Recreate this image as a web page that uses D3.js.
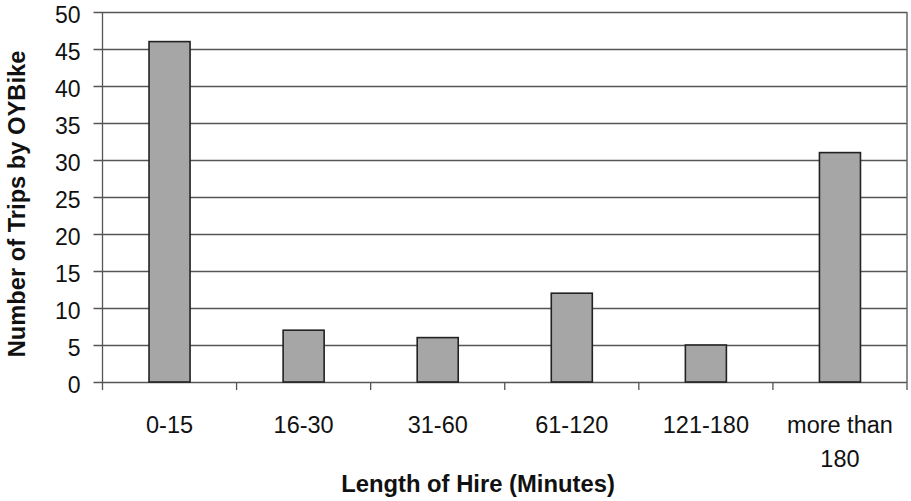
<!DOCTYPE html>
<html>
<head>
<meta charset="utf-8">
<script src="https://cdn.jsdelivr.net/npm/d3@7"></script>
<style>
  html, body { margin: 0; padding: 0; background: #fff; }
  svg { display: block; font-family: "Liberation Sans", Arial, sans-serif; }
</style>
</head>
<body>
<svg id="chart" width="911" height="501"></svg>
<script>
// Trips by length of hire
const categories = ["0-15", "16-30", "31-60", "61-120", "121-180", "more than 180"];
const trips = [46, 7, 6, 12, 5, 31];
const yTicks = [0, 5, 10, 15, 20, 25, 30, 35, 40, 45, 50];

const svg = d3.select("#chart");
const margin = { left: 102.5, right: 4, top: 12, bottom: 119 };
const W = 911, H = 501;
const plotW = W - margin.left - margin.right;
const plotH = H - margin.top - margin.bottom;

const x = d3.scaleBand().domain(categories).range([0, plotW]).paddingInner(0).paddingOuter(0);
const y = d3.scaleLinear().domain([0, 50]).range([plotH, 0]);

const g = svg.append("g").attr("transform", `translate(${margin.left},${margin.top})`);

// Horizontal gridlines (extend left past the axis as tick marks)
g.append("g").selectAll("line").data(yTicks).join("line")
  .attr("x1", -9).attr("x2", plotW)
  .attr("y1", d => Math.round(y(d)) + 0.5).attr("y2", d => Math.round(y(d)) + 0.5)
  .attr("stroke", "#555").attr("stroke-width", 1.3);

// Right frame edge
g.append("line")
  .attr("x1", plotW).attr("x2", plotW).attr("y1", 0).attr("y2", plotH + 8)
  .attr("stroke", "#666").attr("stroke-width", 1.5);

// Y axis line
g.append("line")
  .attr("x1", 0).attr("x2", 0).attr("y1", 0).attr("y2", plotH + 8)
  .attr("stroke", "#555").attr("stroke-width", 1.3);

// Category boundary ticks below the baseline
const bounds = categories.slice(1).map(c => x(c));
g.append("g").selectAll("line").data(bounds).join("line")
  .attr("x1", d => d).attr("x2", d => d)
  .attr("y1", plotH).attr("y2", plotH + 8)
  .attr("stroke", "#555").attr("stroke-width", 1.3);

// Y tick labels
g.append("g").selectAll("text").data(yTicks).join("text")
  .attr("x", -22).attr("y", d => y(d))
  .attr("dy", "0.47em")
  .attr("text-anchor", "end")
  .attr("font-size", 23).attr("fill", "#111")
  .text(d => d);

// Bars
const barW = x.bandwidth() * 0.306;
g.append("g").selectAll("rect").data(categories).join("rect")
  .attr("x", d => x(d) + (x.bandwidth() - barW) / 2)
  .attr("y", (d, i) => y(trips[i]))
  .attr("width", barW)
  .attr("height", (d, i) => plotH - y(trips[i]))
  .attr("fill", "#a6a6a6")
  .attr("stroke", "#222").attr("stroke-width", 1.6);

// X category labels (wrapped)
const xl = g.append("g").selectAll("text").data(categories).join("text")
  .attr("text-anchor", "middle")
  .attr("font-size", 23.5).attr("fill", "#111")
  .attr("transform", d => `translate(${x(d) + x.bandwidth() / 2},${plotH + 50.5})`);
xl.each(function(d) {
  const t = d3.select(this);
  const lines = d === "more than 180" ? ["more than", "180"] : [d];
  lines.forEach((s, i) => t.append("tspan").attr("x", 0).attr("y", i * 34).text(s));
});

// Axis titles
svg.append("text")
  .attr("x", 478).attr("y", 492)
  .attr("text-anchor", "middle")
  .attr("font-size", 23.8).attr("font-weight", "bold").attr("fill", "#111")
  .text("Length of Hire (Minutes)");

svg.append("text")
  .attr("transform", "translate(25,204) rotate(-90)")
  .attr("text-anchor", "middle")
  .attr("font-size", 23.7).attr("font-weight", "bold").attr("fill", "#111")
  .text("Number of Trips by OYBike");
</script>
</body>
</html>
